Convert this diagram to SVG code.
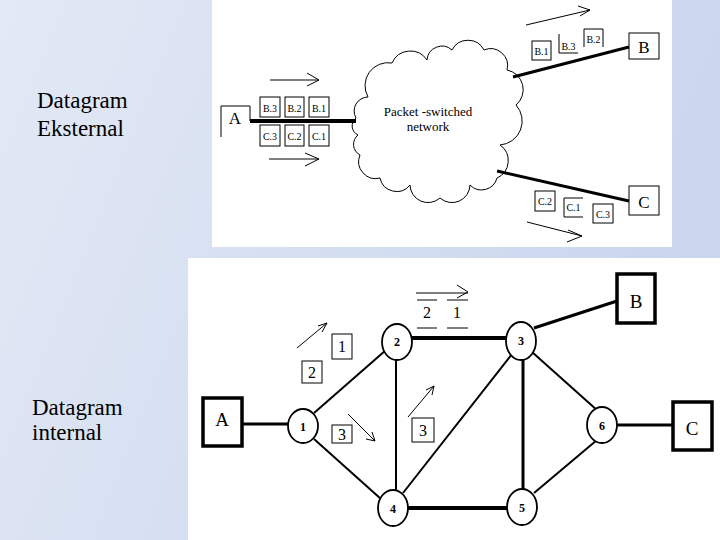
<svg xmlns="http://www.w3.org/2000/svg" width="720" height="540" viewBox="0 0 720 540">
<defs>
<linearGradient id="bg" x1="0" y1="0" x2="1" y2="0.3">
<stop offset="0" stop-color="#e3e9f5"/>
<stop offset="1" stop-color="#c9d6ee"/>
</linearGradient>
<style>
text{font-family:"Liberation Serif","DejaVu Serif","Times New Roman",serif;fill:#000}
.side{font-size:23px}
.pk{font-size:10px;text-anchor:middle}
.big{font-size:19px;text-anchor:middle}
.nl{font-size:12px;font-weight:bold;text-anchor:middle}
.lb{font-size:16px;text-anchor:middle}
.thin{fill:none;stroke:#000;stroke-width:1}
.box{fill:none;stroke:#000;stroke-width:1}
.node{fill:#fff;stroke:#000;stroke-width:1.8}
.bbox{fill:#fff;stroke:#000;stroke-width:3.5}
.e2{stroke:#000;stroke-width:2;fill:none}
.e3{stroke:#000;stroke-width:3;fill:none}
.e4{stroke:#000;stroke-width:4;fill:none}
</style>
</defs>
<rect x="0" y="0" width="720" height="540" fill="url(#bg)"/>
<rect x="212" y="0" width="460" height="247" fill="#fff"/>
<rect x="188" y="258" width="532" height="282" fill="#fff"/>

<text class="side" x="37" y="108">Datagram</text>
<text class="side" x="37" y="136">Eksternal</text>
<text class="side" x="32" y="415">Datagram</text>
<text class="side" x="32" y="440">internal</text>

<!-- top: packet-switched network -->
<g id="top-connectors">
<line class="e4" x1="250" y1="121" x2="356" y2="121"/>
<line class="e3" x1="513" y1="77" x2="629" y2="47"/>
<line class="e3" x1="497" y1="171" x2="629" y2="201"/>
<path class="thin" d="M270,80 H319 M307,73 L319,80 L307,86"/>
<path class="thin" d="M269,159 H319 M305,153 L319,159 L305,166"/>
<path class="thin" d="M526,25 L590,10 M578,6 L590,10 L580,16"/>
<path class="thin" d="M527,222 L582,236 M568,230 L582,236 L567,242"/>
</g>
<g id="cloud">
<path class="thin" d="M356,118 A14,14 0 0 1 368,97 A23,23 0 0 1 392,63 A20,20 0 0 1 427,60 A15,15 0 0 1 452,50 A18,18 0 0 1 484,50 A17,17 0 0 1 507,70 A20,20 0 0 1 516,105 A24,24 0 0 1 500,145 A19,19 0 0 1 497,178 A16,16 0 0 1 470,185 A18,18 0 0 1 440,198 A18,18 0 0 1 410,185 A17,17 0 0 1 380,178 A17,17 0 0 1 360,155 A12,12 0 0 1 358,135 A10,10 0 0 1 356,118 Z"/>
<text x="428" y="116" font-size="13" text-anchor="middle">Packet -switched</text>
<text x="428" y="131" font-size="13" text-anchor="middle">network</text>
</g>
<g id="top-A">
<path class="box" d="M221,137 V106 H250 V121"/>
<text x="235" y="124" font-size="17" text-anchor="middle">A</text>
</g>
<g id="top-B">
<rect class="box" x="629" y="33" width="30" height="26"/>
<text x="644" y="53" font-size="17" text-anchor="middle">B</text>
</g>
<g id="top-C">
<rect class="box" x="629" y="186" width="30" height="29"/>
<text x="644" y="208" font-size="17" text-anchor="middle">C</text>
</g>
<g id="packets-A">
<rect class="box" x="260" y="97" width="20" height="20"/><text class="pk" x="270" y="112">B.3</text>
<rect class="box" x="285" y="97" width="19" height="20"/><text class="pk" x="294.5" y="112">B.2</text>
<rect class="box" x="309" y="97" width="20" height="20"/><text class="pk" x="319" y="112">B.1</text>
<rect class="box" x="260" y="125" width="20" height="21"/><text class="pk" x="270" y="140">C.3</text>
<rect class="box" x="285" y="125" width="19" height="21"/><text class="pk" x="294.5" y="140">C.2</text>
<rect class="box" x="309" y="125" width="20" height="21"/><text class="pk" x="319" y="140">C.1</text>
</g>
<g id="packets-B">
<rect class="box" x="532" y="41" width="19" height="19"/><text class="pk" x="541.5" y="55">B.1</text>
<path class="box" d="M559,34 V53 H578"/><text class="pk" x="568.5" y="50">B.3</text>
<path class="box" d="M584,47 V29 H603 V47"/><text class="pk" x="593.5" y="43">B.2</text>
</g>
<g id="packets-C">
<rect class="box" x="535" y="191" width="20" height="20"/><text class="pk" x="545" y="205">C.2</text>
<path class="box" d="M583,198 H564 V217 H583"/><text class="pk" x="573.5" y="211">C.1</text>
<rect class="box" x="593" y="204" width="20" height="19"/><text class="pk" x="603" y="218">C.3</text>
</g>

<!-- bottom: internal network -->
<g id="connectors">
<line class="e3" x1="242" y1="424" x2="288" y2="424"/>
<line class="e2" x1="314" y1="413" x2="386" y2="350"/>
<line class="e2" x1="314" y1="439" x2="381" y2="499"/>
<line class="e2" x1="396" y1="360" x2="396" y2="490"/>
<line class="e4" x1="412" y1="338" x2="506" y2="338"/>
<line class="e4" x1="408" y1="508" x2="507" y2="508"/>
<line class="e2" x1="403" y1="493" x2="512" y2="354"/>
<line class="e3" x1="523" y1="359" x2="523" y2="490"/>
<line class="e3" x1="534" y1="328" x2="617" y2="301"/>
<line class="e2" x1="532" y1="352" x2="598" y2="411"/>
<line class="e2" x1="534" y1="493" x2="597" y2="440"/>
<line class="e3" x1="617" y1="425" x2="673" y2="425"/>
<path class="thin" d="M297,348 L327,323 M318,326 L327,323 L322,332"/>
<path class="thin" d="M348,414 L375,441 M366,439 L375,441 L372,432"/>
<path class="thin" d="M408,417 L434,386 M426,390 L434,386 L432,395"/>
<path class="thin" d="M416,293 H468 M457,285 L468,292 L457,298"/>
</g>
<g id="node-A"><rect class="bbox" x="203" y="398" width="39" height="48"/><text class="big" x="222" y="426">A</text></g>
<g id="node-B"><rect class="bbox" x="617" y="274" width="38" height="49"/><text class="big" x="636" y="308">B</text></g>
<g id="node-C"><rect class="bbox" x="673" y="402" width="39" height="48"/><text class="big" x="692" y="435">C</text></g>
<g id="node-1"><ellipse class="node" cx="303" cy="426" rx="15" ry="17"/><text class="nl" x="303" y="431">1</text></g>
<g id="node-2"><ellipse class="node" cx="397" cy="342" rx="15" ry="18"/><text class="nl" x="397" y="346">2</text></g>
<g id="node-3"><ellipse class="node" cx="521" cy="341" rx="15" ry="19"/><text class="nl" x="521" y="345">3</text></g>
<g id="node-4"><ellipse class="node" cx="393" cy="508" rx="15" ry="18"/><text class="nl" x="393" y="513">4</text></g>
<g id="node-5"><ellipse class="node" cx="522" cy="507" rx="15" ry="18"/><text class="nl" x="522" y="512">5</text></g>
<g id="node-6"><ellipse class="node" cx="602" cy="425" rx="15" ry="18"/><text class="nl" x="602" y="430">6</text></g>
<g id="packets-internal">
<rect class="box" x="332" y="334" width="20" height="25"/><text class="lb" x="342" y="352">1</text>
<rect class="box" x="302" y="361" width="20" height="22"/><text class="lb" x="312" y="378">2</text>
<rect class="box" x="332" y="425" width="20" height="18"/><text class="lb" x="342" y="440">3</text>
<rect class="box" x="412" y="418" width="22" height="24"/><text class="lb" x="423" y="436">3</text>
<path class="box" d="M417,300 H437 M417,328 H437 M447,300 H468 M447,328 H468"/>
<text class="lb" x="427" y="318">2</text><text class="lb" x="457" y="318">1</text>
</g>
</svg>
